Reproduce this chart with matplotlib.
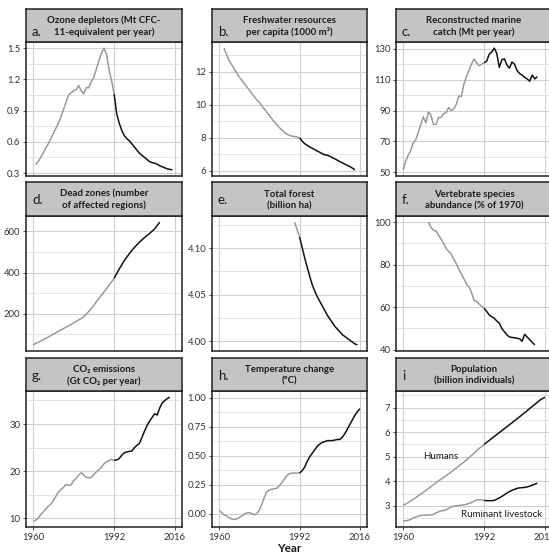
import matplotlib
matplotlib.use('Agg')
import matplotlib.pyplot as plt
from matplotlib.ticker import FixedLocator, FormatStrFormatter

FONT = ['Lato', 'DejaVu Sans']
plt.rcParams['font.family'] = FONT

# ---------------- data ----------------
ozone_years = list(range(1961, 2016))
ozone_vals = [0.38, 0.41, 0.45, 0.49, 0.54, 0.58, 0.63, 0.68, 0.73, 0.78,
              0.84, 0.91, 0.98, 1.05, 1.07, 1.09, 1.10, 1.14, 1.09, 1.06,
              1.12, 1.12, 1.18, 1.22, 1.30, 1.38, 1.45, 1.50, 1.44, 1.29,
              1.19, 1.06, 0.87, 0.78, 0.71, 0.66, 0.63, 0.61, 0.58, 0.55,
              0.52, 0.49, 0.47, 0.45, 0.43, 0.41, 0.40, 0.395, 0.385, 0.37,
              0.36, 0.35, 0.34, 0.335, 0.33]

water_years = list(range(1962, 2015))
water_vals = [13.45, 13.05, 12.7, 12.45, 12.2, 11.95, 11.7, 11.5, 11.3, 11.1,
              10.9, 10.7, 10.5, 10.3, 10.15, 9.95, 9.75, 9.55, 9.35, 9.15,
              8.95, 8.8, 8.62, 8.47, 8.33, 8.22, 8.15, 8.1, 8.08, 8.05,
              8.0, 7.8, 7.65, 7.55, 7.45, 7.37, 7.28, 7.2, 7.12, 7.04,
              6.96, 6.95, 6.88, 6.8, 6.72, 6.64, 6.55, 6.48, 6.4, 6.32,
              6.25, 6.16, 6.05]

catch_years = list(range(1960, 2014))
catch_vals = [51.5, 57, 61, 64, 69, 71, 76, 81, 86, 82,
              89, 87, 81, 81, 85.5, 85.5, 88, 88.5, 92, 90,
              91, 94, 99.5, 99, 107, 112, 116, 120, 123.5, 121,
              119, 120, 121, 122, 126.5, 128, 130.5, 127, 118, 123,
              123.5, 119.5, 117.5, 121.5, 120, 116, 114, 113, 111.5, 110.5,
              109, 113, 110.5, 112]

dead_years = [1960, 1965, 1970, 1975, 1980, 1983, 1986, 1989, 1992, 1994,
              1996, 1998, 2000, 2002, 2004, 2006, 2008, 2010]
dead_vals = [49, 80, 115, 148, 185, 225, 275, 322, 372, 417,
             458, 492, 522, 548, 570, 590, 612, 645]

forest_years = list(range(1990, 2016))
forest_vals = [4.128, 4.120, 4.112, 4.101, 4.090, 4.080, 4.070, 4.061, 4.054, 4.048,
               4.043, 4.038, 4.033, 4.028, 4.024, 4.020, 4.016, 4.013, 4.010, 4.007,
               4.005, 4.003, 4.001, 3.999, 3.997, 3.996]

vert_years = list(range(1970, 2013))
vert_vals = [100, 97.5, 96.2, 95.8, 94, 92, 90, 87.5, 86.2, 85,
             82.5, 80.5, 78, 75.5, 73.5, 71, 69.5, 67, 63.2, 62.8,
             61.5, 60.5, 59.5, 58, 56.4, 55.5, 54.8, 53.5, 52.5, 50,
             48.5, 47, 46, 45.8, 45.6, 45.4, 45.2, 44, 47.3, 46,
             44.7, 43.5, 42.3]

co2_years = list(range(1960, 2015))
co2_vals = [9.5, 9.6, 10.1, 10.8, 11.4, 12.0, 12.6, 13.0, 13.8, 14.7,
            15.6, 16.1, 16.6, 17.2, 17.0, 17.1, 18.0, 18.5, 19.2, 19.7,
            19.2, 18.7, 18.6, 18.7, 19.3, 19.9, 20.3, 20.9, 21.6, 22.0,
            22.3, 22.5, 22.3, 22.4, 22.7, 23.4, 23.9, 24.1, 24.2, 24.3,
            25.0, 25.5, 25.9, 27.2, 28.5, 29.7, 30.6, 31.4, 32.2, 31.9,
            33.4, 34.5, 35.0, 35.4, 35.7]

temp_years = list(range(1960, 2017))
temp_vals = [0.03, 0.01, -0.01, -0.02, -0.035, -0.045, -0.05, -0.045, -0.035, -0.02,
             -0.005, 0.005, 0.01, 0.0, -0.01, 0.0, 0.03, 0.08, 0.14, 0.19,
             0.205, 0.21, 0.215, 0.22, 0.24, 0.27, 0.30, 0.33, 0.345, 0.35,
             0.35, 0.35, 0.35, 0.37, 0.40, 0.45, 0.49, 0.52, 0.55, 0.58,
             0.60, 0.615, 0.62, 0.63, 0.63, 0.63, 0.635, 0.64, 0.64, 0.66,
             0.69, 0.73, 0.77, 0.81, 0.85, 0.88, 0.905]

human_years = list(range(1960, 2017))
human_vals = [3.03, 3.07, 3.13, 3.20, 3.26, 3.33, 3.41, 3.48, 3.55, 3.63,
              3.70, 3.78, 3.86, 3.94, 4.02, 4.08, 4.16, 4.23, 4.30, 4.38,
              4.46, 4.54, 4.62, 4.70, 4.78, 4.87, 4.96, 5.05, 5.14, 5.24,
              5.33, 5.41, 5.50, 5.58, 5.66, 5.74, 5.82, 5.90, 5.98, 6.06,
              6.14, 6.22, 6.30, 6.38, 6.46, 6.54, 6.62, 6.71, 6.79, 6.87,
              6.96, 7.04, 7.13, 7.21, 7.30, 7.36, 7.42]

livestock_years = list(range(1960, 2014))
livestock_vals = [2.39, 2.39, 2.41, 2.45, 2.50, 2.54, 2.58, 2.61, 2.62, 2.62,
                  2.63, 2.63, 2.65, 2.71, 2.76, 2.79, 2.81, 2.84, 2.90, 2.96,
                  2.99, 3.00, 3.01, 3.03, 3.04, 3.06, 3.10, 3.13, 3.19, 3.24,
                  3.25, 3.24, 3.22, 3.21, 3.21, 3.21, 3.22, 3.27, 3.32, 3.38,
                  3.45, 3.52, 3.58, 3.63, 3.67, 3.71, 3.73, 3.74, 3.75, 3.77,
                  3.80, 3.84, 3.88, 3.92]

panel_letters = ['a.', 'b.', 'c.', 'd.', 'e.', 'f.', 'g.', 'h.', 'i']
panel_titles = ['Ozone depletors (Mt CFC-\n11-equivalent per year)',
                'Freshwater resources\nper capita (1000 m\u00b3)',
                'Reconstructed marine\ncatch (Mt per year)',
                'Dead zones (number\nof affected regions)',
                'Total forest\n(billion ha)',
                'Vertebrate species\nabundance (% of 1970)',
                'CO\u2082 emissions\n(Gt CO\u2082 per year)',
                'Temperature change\n(\u00b0C)',
                'Population\n(billion individuals)']
y_major = [[0.3, 0.6, 0.9, 1.2, 1.5], [6, 8, 10, 12], [50, 70, 90, 110, 130],
           [200, 400, 600], [4.00, 4.05, 4.10], [40, 60, 80, 100],
           [10, 20, 30], [0.0, 0.25, 0.5, 0.75, 1.0], [3, 4, 5, 6, 7]]
y_fmt = ['%.1f', '%d', '%d', '%d', '%.2f', '%d', '%d', '%.2f', '%d']
# fixed y range where the original scale was wider than the drawn line
y_limits = [None, None, None, None, None, None, None, (-0.115, 1.058), None]
x_ticks = [1960, 1992, 2016]
split_year = 1992

series = [[(ozone_years, ozone_vals)], [(water_years, water_vals)],
          [(catch_years, catch_vals)], [(dead_years, dead_vals)],
          [(forest_years, forest_vals)], [(vert_years, vert_vals)],
          [(co2_years, co2_vals)], [(temp_years, temp_vals)],
          [(human_years, human_vals), (livestock_years, livestock_vals)]]

# ---------------- layout ----------------
W, H = 549, 555
fig = plt.figure(figsize=(W / 100, H / 100), dpi=100)

def box(x0, y0, x1, y1):
    return [x0 / W, 1 - y1 / H, (x1 - x0) / W, (y1 - y0) / H]

cols = [(26, 182), (212, 367), (396, 552)]
rows = [(8.5, 42, 176), (182, 216, 351), (357.5, 391, 527)]
letter_base = [0.83, 0.66, 0.66]   # baseline of panel letter, fraction from strip top

GRAY = '#9a9a9a'
BLACK = '#111111'
EDGE = '#222222'
TXT = '#333333'

for k in range(9):
    r, c = divmod(k, 3)
    x0, x1 = cols[c]
    st, pt, pb = rows[r]
    ax = fig.add_axes(box(x0, pt, x1, pb))
    sax = fig.add_axes(box(x0, st, x1, pt))

    allv = []
    for yrs, vals in series[k]:
        g = [(y, v) for y, v in zip(yrs, vals) if y <= split_year]
        b = [(y, v) for y, v in zip(yrs, vals) if y >= split_year]
        if g:
            ax.plot([p[0] for p in g], [p[1] for p in g], color=GRAY, lw=1.1,
                    solid_capstyle='butt', zorder=3)
        if b:
            ax.plot([p[0] for p in b], [p[1] for p in b], color=BLACK, lw=1.1,
                    solid_capstyle='butt', zorder=3)
        allv += vals
    if y_limits[k] is None:
        lo, hi = min(allv), max(allv)
        pad = 0.05 * (hi - lo)
        ax.set_ylim(lo - pad, hi + pad)
    else:
        ax.set_ylim(*y_limits[k])
    ax.set_xlim(1960 - 2.8, 2016 + 2.8)

    maj = y_major[k]
    step = maj[1] - maj[0]
    mins = [maj[0] - step / 2] + [m + step / 2 for m in maj]
    ax.yaxis.set_major_locator(FixedLocator(maj))
    ax.yaxis.set_minor_locator(FixedLocator(mins))
    ax.yaxis.set_major_formatter(FormatStrFormatter(y_fmt[k]))
    ax.xaxis.set_major_locator(FixedLocator(x_ticks))
    ax.grid(True, which='major', color='#d0d0d0', lw=0.8)
    ax.grid(True, which='minor', axis='y', color='#e0e0e0', lw=0.6)
    ax.set_axisbelow(True)
    ax.tick_params(axis='y', which='minor', length=0)
    ax.tick_params(axis='y', which='major', length=2.5, width=0.6, color=TXT,
                   labelsize=6.8, labelcolor=TXT, pad=1.5)
    if r == 2:
        ax.tick_params(axis='x', length=2.5, width=0.6, color=TXT,
                       labelsize=6.8, labelcolor=TXT, pad=1.5)
    else:
        ax.tick_params(axis='x', length=0, labelbottom=False)
    for s in ax.spines.values():
        s.set_color(EDGE)
        s.set_linewidth(1.1)

    # strip
    sax.set_facecolor('#c4c4c4')
    sax.set_xticks([])
    sax.set_yticks([])
    for s in sax.spines.values():
        s.set_color(EDGE)
        s.set_linewidth(1.1)
    sax.text(0.5, 0.47, panel_titles[k], ha='center', va='center',
             fontsize=6.9, fontweight='bold', color='#1a1a1a',
             linespacing=1.3, transform=sax.transAxes, family=FONT)
    sax.text(0.038, 1 - letter_base[r], panel_letters[k], ha='left', va='baseline',
             fontsize=9.5, color='#1a1a1a', transform=sax.transAxes, family=FONT)

    if k == 8:
        ax.text(1975, 5.0, 'Humans', fontsize=7, color='#1a1a1a',
                ha='center', va='center')
        ax.text(1983, 2.63, 'Ruminant livestock', fontsize=7, color='#1a1a1a',
                ha='left', va='center', clip_on=False)

fig.text(289 / W, 1 - 549 / H, 'Year', ha='center', va='center',
         fontsize=8.5, fontweight='bold', color='#1a1a1a')

fig.savefig('out.png', dpi=100)
